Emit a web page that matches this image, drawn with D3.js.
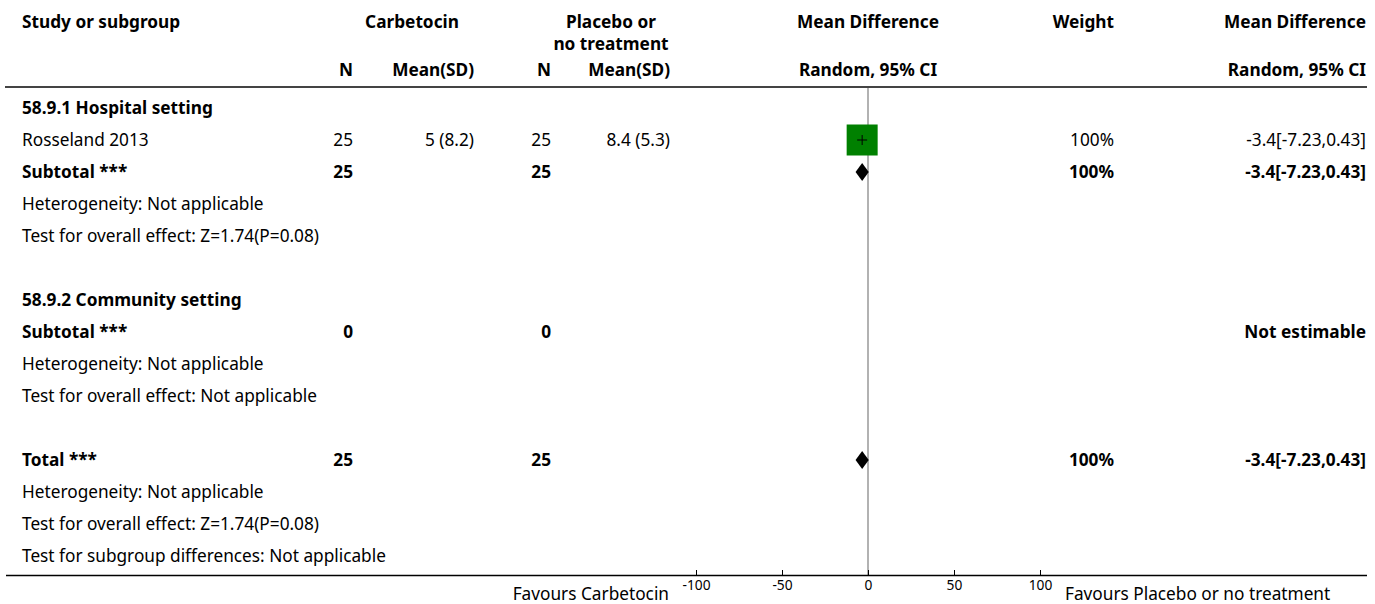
<!DOCTYPE html>
<html>
<head>
<meta charset="utf-8">
<script src="https://cdn.jsdelivr.net/npm/d3@7"></script>
<style>
  html, body { margin: 0; padding: 0; background: #fff; }
  svg { display: block; }
  text { font-family: "Noto Sans", "Open Sans", sans-serif; fill: #000; }
</style>
</head>
<body>
<svg id="chart" width="1375" height="604"></svg>
<script>
// ---------------- DATA ----------------
const rowLabels = [
  "58.9.1 Hospital setting",
  "Rosseland 2013",
  "Subtotal ***",
  "Heterogeneity: Not applicable",
  "Test for overall effect: Z=1.74(P=0.08)",
  "",
  "58.9.2 Community setting",
  "Subtotal ***",
  "Heterogeneity: Not applicable",
  "Test for overall effect: Not applicable",
  "",
  "Total ***",
  "Heterogeneity: Not applicable",
  "Test for overall effect: Z=1.74(P=0.08)",
  "Test for subgroup differences: Not applicable"
];
const rowTypes = ["group","study","subtotal","note","note","blank","group","subtotal","note","note","blank","subtotal","note","note","note"];
const carbN      = [null, "25", "25", null, null, null, null, "0", null, null, null, "25", null, null, null];
const carbMeanSD = [null, "5 (8.2)", null, null, null, null, null, null, null, null, null, null, null, null, null];
const placN      = [null, "25", "25", null, null, null, null, "0", null, null, null, "25", null, null, null];
const placMeanSD = [null, "8.4 (5.3)", null, null, null, null, null, null, null, null, null, null, null, null, null];
const md         = [null, -3.4, -3.4, null, null, null, null, null, null, null, null, -3.4, null, null, null];
const ciLow      = [null, -7.23, -7.23, null, null, null, null, null, null, null, null, -7.23, null, null, null];
const ciHigh     = [null, 0.43, 0.43, null, null, null, null, null, null, null, null, 0.43, null, null, null];
const weights    = [null, 100, 100, null, null, null, null, null, null, null, null, 100, null, null, null];
const weightText = [null, "100%", "100%", null, null, null, null, null, null, null, null, "100%", null, null, null];
const mdText     = [null, "-3.4[-7.23,0.43]", "-3.4[-7.23,0.43]", null, null, null, null, "Not estimable", null, null, null, "-3.4[-7.23,0.43]", null, null, null];
const axisTicks  = [-100, -50, 0, 50, 100];
const favoursLeft = "Favours Carbetocin";
const favoursRight = "Favours Placebo or no treatment";

// ---------------- LAYOUT ----------------
const svg = d3.select("#chart");

// font scaling to match reference width of a known string
const probe = svg.append("text").attr("font-size", 14).text("Test for subgroup differences: Not applicable");
const probeW = probe.node().getComputedTextLength();
probe.remove();
const fs = 14 * 364 / probeW;

const x = d3.scaleLinear().domain([-100, 100]).range([696, 1040]);
const y = d3.scaleLinear().domain([0, 14]).range([108, 556]);

const col = {
  label: 22,
  carbN: 353,
  carbMean: 474,
  placN: 551,
  placMean: 670,
  weight: 1114,
  mdText: 1366
};

// header
const hdr = svg.append("g").attr("font-weight", "bold").attr("font-size", fs);
function ht(tx, ty, s, anchor) {
  hdr.append("text").attr("x", tx).attr("y", ty).attr("dy", "0.35em")
    .attr("text-anchor", anchor).text(s);
}
ht(col.label, 22, "Study or subgroup", "start");
ht(412, 22, "Carbetocin", "middle");
ht(611, 22, "Placebo or", "middle");
ht(611, 44, "no treatment", "middle");
ht(x(0), 22, "Mean Difference", "middle");
ht(col.weight, 22, "Weight", "end");
ht(col.mdText, 22, "Mean Difference", "end");
ht(col.carbN, 70, "N", "end");
ht(col.carbMean, 70, "Mean(SD)", "end");
ht(col.placN, 70, "N", "end");
ht(col.placMean, 70, "Mean(SD)", "end");
ht(x(0), 70, "Random, 95% CI", "middle");
ht(col.mdText, 70, "Random, 95% CI", "end");

// header rule
svg.append("line").attr("x1", 5).attr("x2", 1367).attr("y1", 87).attr("y2", 87)
  .attr("stroke", "#444").attr("stroke-width", 2);

// zero line
svg.append("line").attr("x1", x(0)).attr("x2", x(0)).attr("y1", 88).attr("y2", 575)
  .attr("stroke", "#999").attr("stroke-width", 1.5);

// rows
const rows = svg.append("g").attr("font-size", fs);
rowLabels.forEach((lab, i) => {
  const t = rowTypes[i];
  const bold = (t === "group" || t === "subtotal") ? "bold" : "normal";
  const yy = y(i);
  const tx = (tx_, s, anchor) => {
    if (s == null || s === "") return;
    rows.append("text").attr("x", tx_).attr("y", yy).attr("dy", "0.35em")
      .attr("text-anchor", anchor).attr("font-weight", bold)
      .attr("fill", t === "note" ? "#222" : "#000").text(s);
  };
  tx(col.label, lab, "start");
  tx(col.carbN, carbN[i], "end");
  tx(col.carbMean, carbMeanSD[i], "end");
  tx(col.placN, placN[i], "end");
  tx(col.placMean, placMeanSD[i], "end");
  tx(col.weight, weightText[i], "end");
  tx(col.mdText, mdText[i], "end");

  if (md[i] != null) {
    if (t === "study") {
      const side = 31 * Math.sqrt(weights[i] / 100);
      rows.append("line").attr("x1", x(ciLow[i])).attr("x2", x(ciHigh[i]))
        .attr("y1", yy).attr("y2", yy).attr("stroke", "#000");
      rows.append("rect").attr("x", x(md[i]) - side / 2).attr("y", yy - side / 2)
        .attr("width", side).attr("height", side).attr("fill", "#008000");
      rows.append("line").attr("x1", x(md[i]) - 5).attr("x2", x(md[i]) + 5)
        .attr("y1", yy).attr("y2", yy).attr("stroke", "#000").attr("stroke-width", 1);
      rows.append("line").attr("x1", x(md[i])).attr("x2", x(md[i]))
        .attr("y1", yy - 5).attr("y2", yy + 5).attr("stroke", "#000").attr("stroke-width", 1);
    } else {
      const h = 9;
      rows.append("path")
        .attr("d", `M${x(ciLow[i])},${yy} L${x(md[i])},${yy - h} L${x(ciHigh[i])},${yy} L${x(md[i])},${yy + h} Z`)
        .attr("fill", "#000");
    }
  }
});

// bottom rule
svg.append("line").attr("x1", 6).attr("x2", 1367).attr("y1", 575.5).attr("y2", 575.5)
  .attr("stroke", "#000").attr("stroke-width", 1.5);

// axis
const axis = d3.axisTop(x).tickValues(axisTicks).tickSize(5).tickFormat(d => String(d));
const ag = svg.append("g").attr("transform", "translate(0,575)").call(axis);
ag.select(".domain").remove();
ag.selectAll(".tick line").attr("stroke", "#000");
ag.selectAll(".tick text").attr("y", 10).attr("dy", "0.35em")
  .attr("font-size", fs * 0.8).attr("fill", "#000")
  .attr("font-family", "Noto Sans, Open Sans, sans-serif");

svg.append("text").attr("x", 669).attr("y", 594).attr("dy", "0.35em")
  .attr("text-anchor", "end").attr("font-size", fs).text(favoursLeft);
svg.append("text").attr("x", 1065).attr("y", 594).attr("dy", "0.35em")
  .attr("text-anchor", "start").attr("font-size", fs).text(favoursRight);
</script>
</body>
</html>
